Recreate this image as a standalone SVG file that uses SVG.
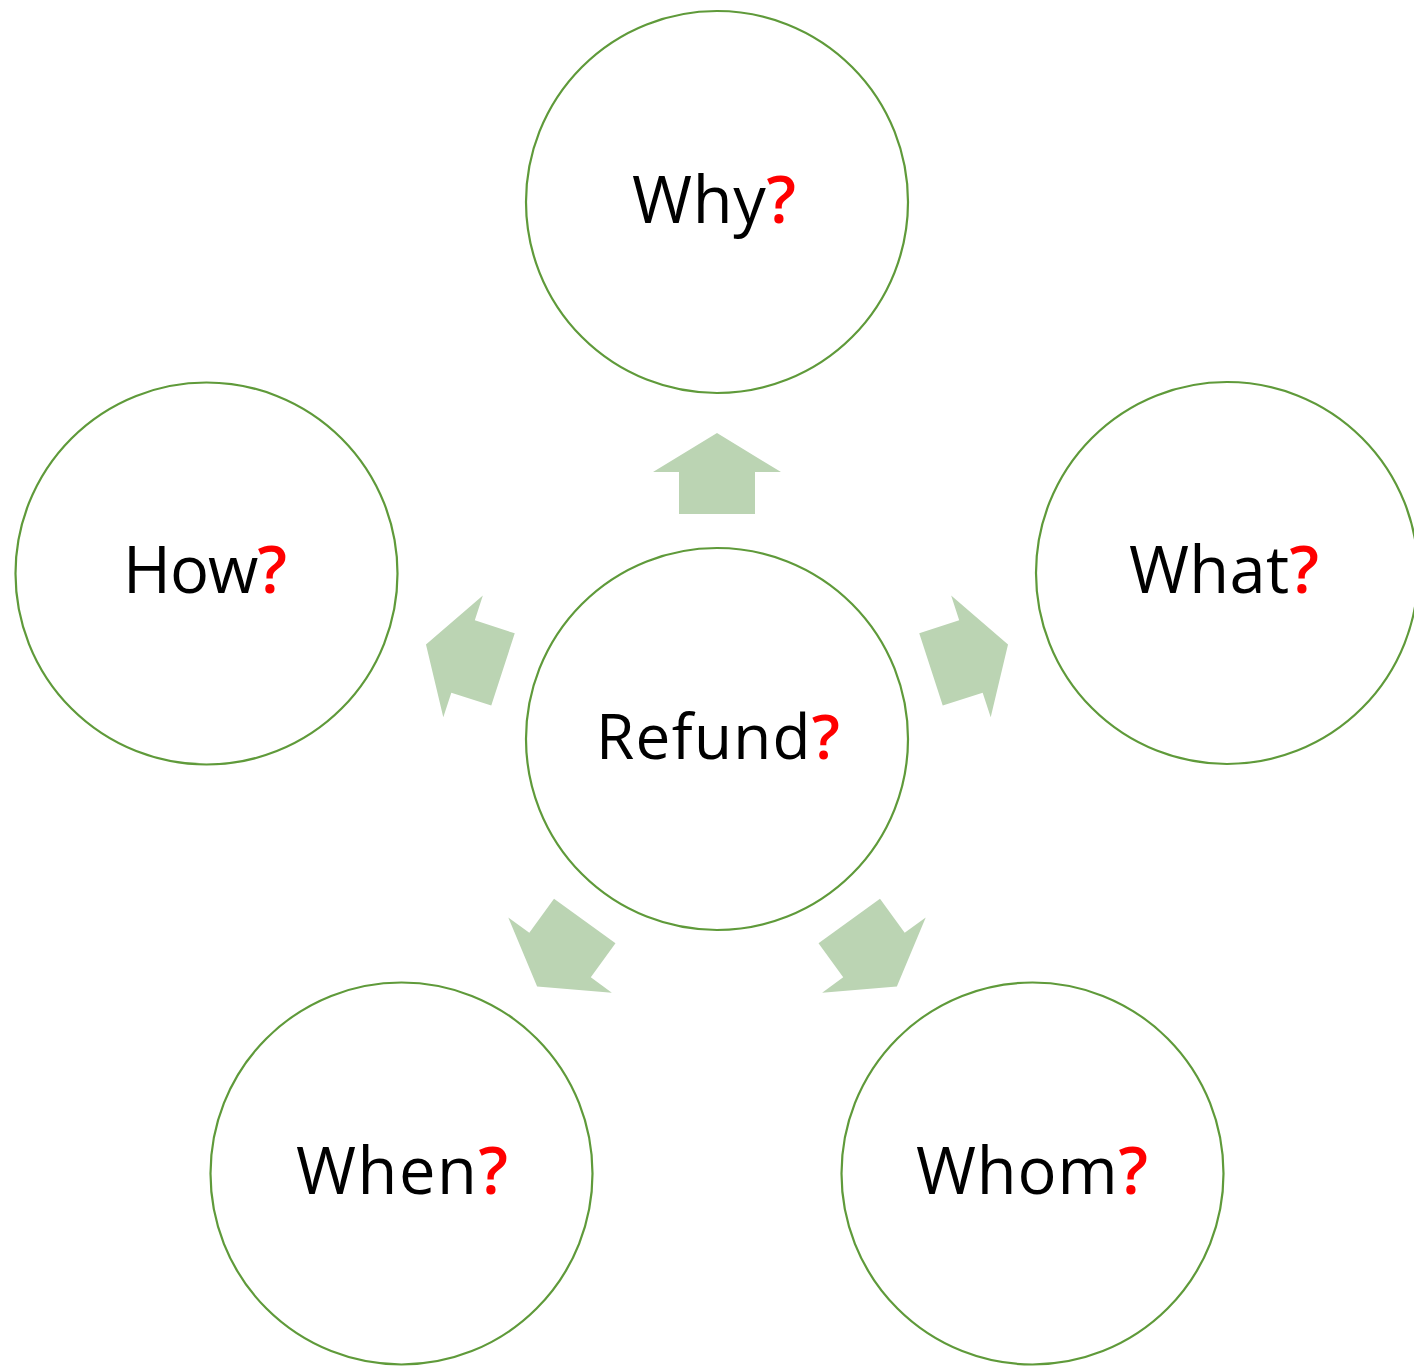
<svg xmlns="http://www.w3.org/2000/svg" width="1414" height="1366" viewBox="0 0 1414 1366">
<style>
.node circle{fill:#ffffff;stroke:#5f9a3a;stroke-width:2.2}
.node text{font-family:"Open Sans","Liberation Sans",sans-serif;font-size:65px;fill:#000000;text-anchor:middle}
.q{fill:#ff0000;font-weight:600}
.arrow{fill:#bbd4b3}
</style>
<defs>
<polygon id="arr" class="arrow" points="-38,-225 -38,-267 -64,-267 0,-306 64,-267 38,-267 38,-225"/>
</defs>
<rect width="1414" height="1366" fill="#ffffff"/>
<g id="connectors">
<use href="#arr" transform="translate(717,739) rotate(0)"/>
<use href="#arr" transform="translate(717,739) rotate(72)"/>
<use href="#arr" transform="translate(717,739) rotate(144)"/>
<use href="#arr" transform="translate(717,739) rotate(216)"/>
<use href="#arr" transform="translate(717,739) rotate(288)"/>
</g>
<g id="node-why" class="node">
<circle cx="717" cy="202" r="191"/>
<text x="714" y="223" textLength="164" lengthAdjust="spacing">Why<tspan class="q">?</tspan></text>
</g>
<g id="node-what" class="node">
<circle cx="1227" cy="573" r="191"/>
<text x="1224" y="593" textLength="190" lengthAdjust="spacing">What<tspan class="q">?</tspan></text>
</g>
<g id="node-how" class="node">
<circle cx="206.5" cy="573.5" r="191"/>
<text x="205" y="593" textLength="164" lengthAdjust="spacing">How<tspan class="q">?</tspan></text>
</g>
<g id="node-when" class="node">
<circle cx="401.5" cy="1173.5" r="191"/>
<text x="402" y="1194" textLength="212" lengthAdjust="spacing">When<tspan class="q">?</tspan></text>
</g>
<g id="node-whom" class="node">
<circle cx="1032.5" cy="1173.5" r="191"/>
<text x="1032" y="1194" textLength="232" lengthAdjust="spacing">Whom<tspan class="q">?</tspan></text>
</g>
<g id="node-refund" class="node">
<circle cx="717" cy="739" r="191"/>
<text x="718" y="759" textLength="244" lengthAdjust="spacing" style="font-size:62px">Refund<tspan class="q">?</tspan></text>
</g>
</svg>
